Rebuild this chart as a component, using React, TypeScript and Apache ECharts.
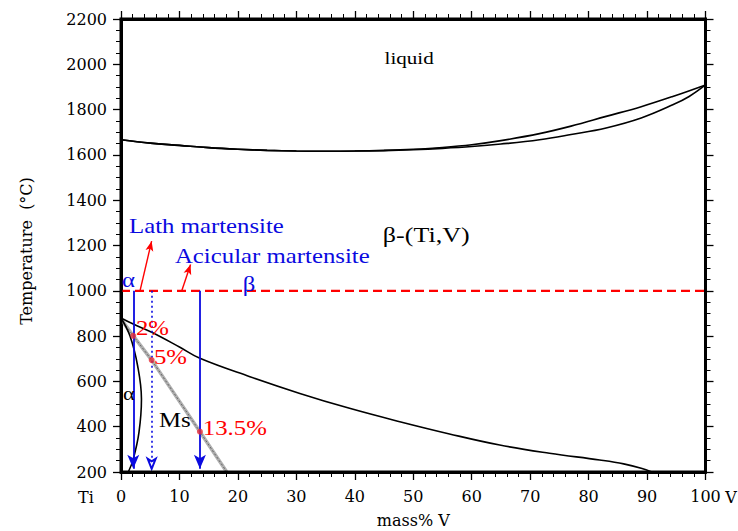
import React, { useEffect, useRef } from 'react';
import * as echarts from 'echarts';

// ---- data (mass% V, temperature °C) ----
const liquidus: number[][] = [[0,1667],[5,1652],[10,1642],[15,1632],[20,1625],[25,1620],[30,1617],[35,1616],[40,1617],[45,1620],[50,1625],[55,1633],[60,1645],[65,1663],[71.6,1694],[77,1727],[83,1770],[89,1813],[94.4,1858],[100,1909]];
const solidus: number[][] = [[0,1667],[5,1652],[10,1642],[15,1632],[20,1625],[25,1620],[30,1617],[35,1616],[40,1617],[45,1619],[50,1623],[55,1629],[60,1637],[65,1648],[71.6,1667],[77,1690],[83,1719],[89,1763],[94.4,1821],[97.2,1858],[100,1909]];
const betaTransus: number[][] = [[0,880],[2.1,853],[5.25,817],[10,752],[13.5,702],[22.05,621],[30.6,547],[39.1,481],[47.7,422],[56.2,368],[64.8,319],[73.3,283],[81.9,253],[86,236],[89,217],[90.8,200]];
const alphaTransus: number[][] = [[0,880],[1.54,800],[2.85,668],[3.5,522],[3.08,376],[2.1,257],[1.25,200]];
const msLine: number[][] = [[0,875],[2.1,801],[5.25,694],[13.5,378],[18.1,200]];
const msPoints: number[][] = [[2.1,801],[5.25,694],[13.5,378]];
const quenchT = 1000;
const quenchRange = [0, 100];
const arrowX = [2.1, 5.25, 13.5];
const arrowEndT = 214;
const pointerArrows: number[][][] = [[[3.25,1000],[5.24,1219]], [[10.4,1000],[11.9,1116]]];

const BLUE = '#0a0ae0';
const RED = '#ff0000';

const annotations = [
  { text: 'liquid', x: 45.1, t: 2028, color: '#000', size: 17 },
  { text: 'β-(Ti,V)', x: 44.8, t: 1246, color: '#000', size: 21 },
  { text: 'Lath martensite', x: 1.37, t: 1286, color: BLUE, size: 20 },
  { text: 'Acicular martensite', x: 9.23, t: 1152, color: BLUE, size: 20 },
  { text: 'α', x: 0.17, t: 1048, color: BLUE, size: 20 },
  { text: 'β', x: 20.85, t: 1030, color: BLUE, size: 20 },
  { text: '2%', x: 2.56, t: 836, color: RED, size: 20 },
  { text: '5%', x: 5.64, t: 708, color: RED, size: 20 },
  { text: '13.5%', x: 14.0, t: 394, color: RED, size: 20 },
  { text: 'α', x: 0.34, t: 544, color: '#000', size: 18 },
  { text: 'Ms', x: 6.5, t: 430, color: '#000', size: 20 },
];

const AXIS_FONT = 'DejaVu Serif';
const ANNO_FONT = 'Liberation Serif';

export default function App() {
  const ref = useRef<HTMLDivElement>(null);
  useEffect(() => {
    if (!ref.current) return;
    const chart = echarts.init(ref.current, undefined, { renderer: 'svg' });
    const axisLine = { show: true, onZero: false, lineStyle: { color: '#000', width: 3 } };
    const tick = { show: true, inside: false, length: 8, lineStyle: { color: '#000', width: 1.3 } };
    const plain = (v: number) => String(v);
    const xBase = {
      type: 'value', min: 0, max: 100, interval: 10,
      axisLine, axisTick: tick,
      minorTick: { show: true, splitNumber: 5, length: 5, lineStyle: { color: '#000', width: 1 } },
      splitLine: { show: false }, minorSplitLine: { show: false },
    };
    const yBase = {
      type: 'value', min: 200, max: 2200, interval: 200,
      axisLine, axisTick: tick,
      minorTick: { show: true, splitNumber: 4, length: 5, lineStyle: { color: '#000', width: 1 } },
      splitLine: { show: false }, minorSplitLine: { show: false },
    };
    const blackLine = (data: number[][], smooth: any = 0.4) => ({
      type: 'line', data, smooth, symbol: 'none', silent: true,
      lineStyle: { color: '#000', width: 1.6 }, z: 3,
    });
    const option: any = {
      animation: false,
      grid: { left: 121, right: 32.5, top: 19, bottom: 59, containLabel: false, outerBoundsMode: 'none' },
      xAxis: [
        { ...xBase, position: 'bottom', axisLabel: { show: true, margin: 16, fontFamily: AXIS_FONT, fontSize: 16, color: '#000', formatter: plain } },
        { ...xBase, position: 'top', axisLabel: { show: false } },
      ],
      yAxis: [
        { ...yBase, position: 'left', axisLabel: { show: true, margin: 14, fontFamily: AXIS_FONT, fontSize: 16, color: '#000', formatter: plain } },
        { ...yBase, position: 'right', axisLabel: { show: false } },
      ],
      series: [
        blackLine(liquidus),
        blackLine(solidus),
        blackLine(betaTransus),
        blackLine(alphaTransus),
        { type: 'line', data: msLine, symbol: 'none', silent: true, lineStyle: { color: '#b0b0b0', width: 3.5 }, z: 2 },
        { type: 'line', data: msLine, symbol: 'none', silent: true, lineStyle: { color: '#666', width: 1, type: [2, 2] }, z: 2 },
        {
          type: 'line', data: quenchRange.map((x) => [x, quenchT]), symbol: 'none', silent: true,
          lineStyle: { color: RED, width: 2.2, type: [9, 5] }, z: 4,
        },
        {
          type: 'line', data: [], silent: true, z: 5,
          markLine: {
            silent: true, animation: false, label: { show: false },
            symbol: ['none', 'arrow'], symbolSize: [9, 14],
            lineStyle: { color: BLUE, width: 1.8, type: 'solid' },
            emphasis: { disabled: true },
            data: arrowX.map((x, i) => [
              { coord: [x, quenchT], lineStyle: { color: BLUE, width: i === 1 ? 1.6 : 1.8, type: i === 1 ? [2, 3] : 'solid' } },
              i === 1
                ? { coord: [x, arrowEndT], symbol: 'emptyArrow', symbolSize: [6, 10] }
                : { coord: [x, arrowEndT] },
            ]),
          },
        },
        {
          type: 'line', data: [], silent: true, z: 5,
          markLine: {
            silent: true, animation: false, label: { show: false },
            symbol: ['none', 'arrow'], symbolSize: [6, 10],
            lineStyle: { color: RED, width: 1.4, type: 'solid' },
            emphasis: { disabled: true },
            data: pointerArrows.map((p) => [{ coord: p[0] }, { coord: p[1] }]),
          },
        },
        {
          type: 'scatter', data: msPoints, symbol: 'circle', symbolSize: 6, silent: true, z: 6,
          itemStyle: { color: '#e8303a' },
        },
      ],
    };
    chart.setOption(option);

    const graphics: any[] = annotations.map((a) => {
      const [px, py] = chart.convertToPixel({ xAxisIndex: 0, yAxisIndex: 0 }, [a.x, a.t]) as number[];
      return {
        type: 'text', x: px, y: py, scaleX: 1.24, z: 10, silent: true,
        style: { text: a.text, fill: a.color, font: `${a.size}px "${ANNO_FONT}"`, textAlign: 'left', textVerticalAlign: 'middle' },
      };
    });
    const [x0, y0] = chart.convertToPixel({ xAxisIndex: 0, yAxisIndex: 0 }, [0, 200]) as number[];
    const [x1, y1] = chart.convertToPixel({ xAxisIndex: 0, yAxisIndex: 0 }, [100, 2200]) as number[];
    graphics.push({
      type: 'rect', z: 8, silent: true,
      shape: { x: x0, y: y1, width: x1 - x0, height: y0 - y1 },
      style: { fill: 'none', stroke: '#000', lineWidth: 3 },
    });
    const axisText = (text: string, x: number, y: number, extra: any = {}) => ({
      type: 'text', x, y, silent: true, z: 10, ...extra,
      style: { text, fill: '#000', font: `16px "${AXIS_FONT}"`, textAlign: 'center', textVerticalAlign: 'middle' },
    });
    graphics.push(axisText('Temperature  (°C)', 26, 251, { rotation: Math.PI / 2 }));
    graphics.push(axisText('mass% V', (x0 + x1) / 2, 520));
    graphics.push(axisText('Ti', 86, 497));
    graphics.push(axisText('V', 731, 497));
    chart.setOption({ graphic: graphics });

    return () => chart.dispose();
  }, []);
  return <div ref={ref} style={{ position: 'absolute', left: 0, top: 0, width: 738, height: 531 }} />;
}
